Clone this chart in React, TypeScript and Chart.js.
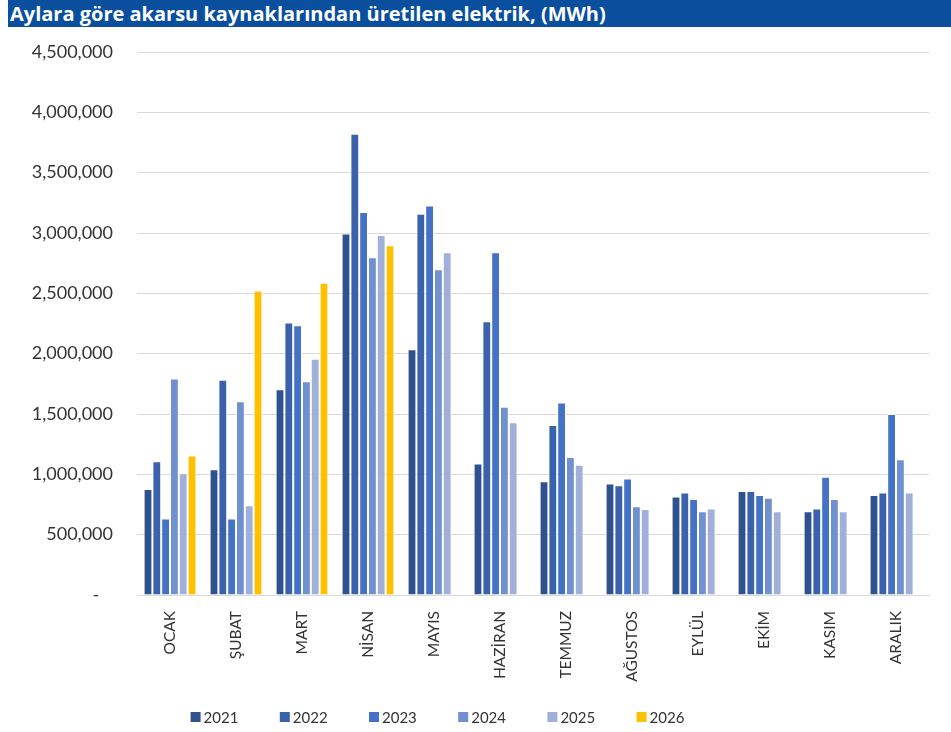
import React, { useEffect, useRef } from "react";
import { Chart, registerables } from "chart.js";

Chart.register(...registerables);

const TITLE = "Aylara göre akarsu kaynaklarından üretilen elektrik, (MWh)";

const months = ["OCAK", "ŞUBAT", "MART", "NİSAN", "MAYIS", "HAZİRAN", "TEMMUZ", "AĞUSTOS", "EYLÜL", "EKİM", "KASIM", "ARALIK"];

const years = ["2021", "2022", "2023", "2024", "2025", "2026"];

const v2021 = [879000, 1043000, 1706000, 2995000, 2036000, 1090000, 943000, 924000, 817000, 861000, 695000, 828000];
const v2022 = [1109000, 1783000, 2258000, 3822000, 3159000, 2269000, 1409000, 910000, 850000, 861000, 717000, 850000];
const v2023 = [635000, 635000, 2235000, 3173000, 3228000, 2840000, 1595000, 965000, 795000, 828000, 981000, 1500000];
const v2024 = [1794000, 1606000, 1772000, 2798000, 2699000, 1561000, 1143000, 735000, 695000, 806000, 795000, 1125000];
const v2025 = [1010000, 743000, 1958000, 2984000, 2840000, 1431000, 1079000, 713000, 717000, 695000, 695000, 850000];
const v2026 = [1157000, 2524000, 2588000, 2898000, null, null, null, null, null, null, null, null];

const seriesValues = [v2021, v2022, v2023, v2024, v2025, v2026];
const seriesColors = ["#2F528F", "#3A62AC", "#4472C4", "#7090CF", "#A0B0DA", "#FFC000"];

const yMax = 4500000;
const yStep = 500000;

const FONT = "Lato, 'Liberation Sans', sans-serif";
const TEXT_COLOR = "#333333";

// Legend drawn in a small plugin so the item spacing can follow the reference
const yearLegend = {
  id: "yearLegend",
  afterDraw(chart: any) {
    const ctx = chart.ctx;
    const sets = chart.data.datasets;
    const box = 10;
    const gap = 3;
    const step = 89.2;
    const cx = 437.5;
    const cy = 717;
    ctx.save();
    ctx.font = `15px ${FONT}`;
    ctx.textBaseline = "middle";
    ctx.textAlign = "left";
    const lastW = ctx.measureText(sets[sets.length - 1].label).width;
    const total = step * (sets.length - 1) + box + gap + lastW;
    let x = cx - total / 2;
    sets.forEach((ds: any) => {
      ctx.fillStyle = ds.backgroundColor;
      ctx.fillRect(x, cy - box / 2, box, box);
      ctx.fillStyle = TEXT_COLOR;
      ctx.fillText(ds.label, x + box + gap, cy + 1);
      x += step;
    });
    ctx.restore();
  },
};

export default function App() {
  const ref = useRef<HTMLCanvasElement | null>(null);

  useEffect(() => {
    if (!ref.current) return;
    const chart = new Chart(ref.current, {
      type: "bar",
      data: {
        labels: months,
        datasets: years.map((y, i) => ({
          label: y,
          data: seriesValues[i],
          backgroundColor: seriesColors[i],
          borderColor: "rgba(255,255,255,0.85)",
          borderWidth: 1,
          categoryPercentage: 0.8,
          barPercentage: 1,
        })),
      },
      plugins: [yearLegend],
      options: {
        responsive: false,
        animation: false,
        layout: { padding: { top: 52, right: 22, bottom: 22, left: 0 } },
        plugins: {
          tooltip: { enabled: false },
          title: { display: false },
          legend: { display: false },
        },
        scales: {
          x: {
            grid: { display: false, drawTicks: false },
            border: { display: true, color: "#d9d9d9" },
            ticks: {
              autoSkip: false,
              minRotation: 90,
              maxRotation: 90,
              padding: 16,
              color: TEXT_COLOR,
              font: { family: FONT, size: 15.5 },
            },
            afterFit: (s: any) => {
              s.height = 115;
            },
          },
          y: {
            min: 0,
            max: yMax,
            grid: { color: "#d9d9d9", lineWidth: 1, drawTicks: false },
            border: { display: false },
            ticks: {
              stepSize: yStep,
              padding: 24,
              color: TEXT_COLOR,
              font: { family: FONT, size: 18 },
              callback: (v: any) => (Number(v) === 0 ? "-   " : Number(v).toLocaleString("en-US")),
            },
            afterFit: (s: any) => {
              s.width = 137;
            },
          },
        },
      },
    });
    return () => chart.destroy();
  }, []);

  return (
    <div style={{ position: "absolute", left: 0, top: 0, width: 951, height: 732, overflow: "hidden", background: "#fff" }}>
      <canvas ref={ref} width={951} height={732} style={{ position: "absolute", left: 0, top: 0, width: 951, height: 732 }} />
      <div
        style={{
          position: "absolute",
          left: 8,
          top: 0,
          right: 0,
          height: 27,
          background: "#0A4F9D",
          color: "#fff",
          fontFamily: "'Open Sans', 'Liberation Sans', sans-serif",
          fontWeight: 700,
          fontSize: 20,
          lineHeight: "27px",
          paddingLeft: 2,
          whiteSpace: "nowrap",
        }}
      >
        {TITLE}
      </div>
    </div>
  );
}
